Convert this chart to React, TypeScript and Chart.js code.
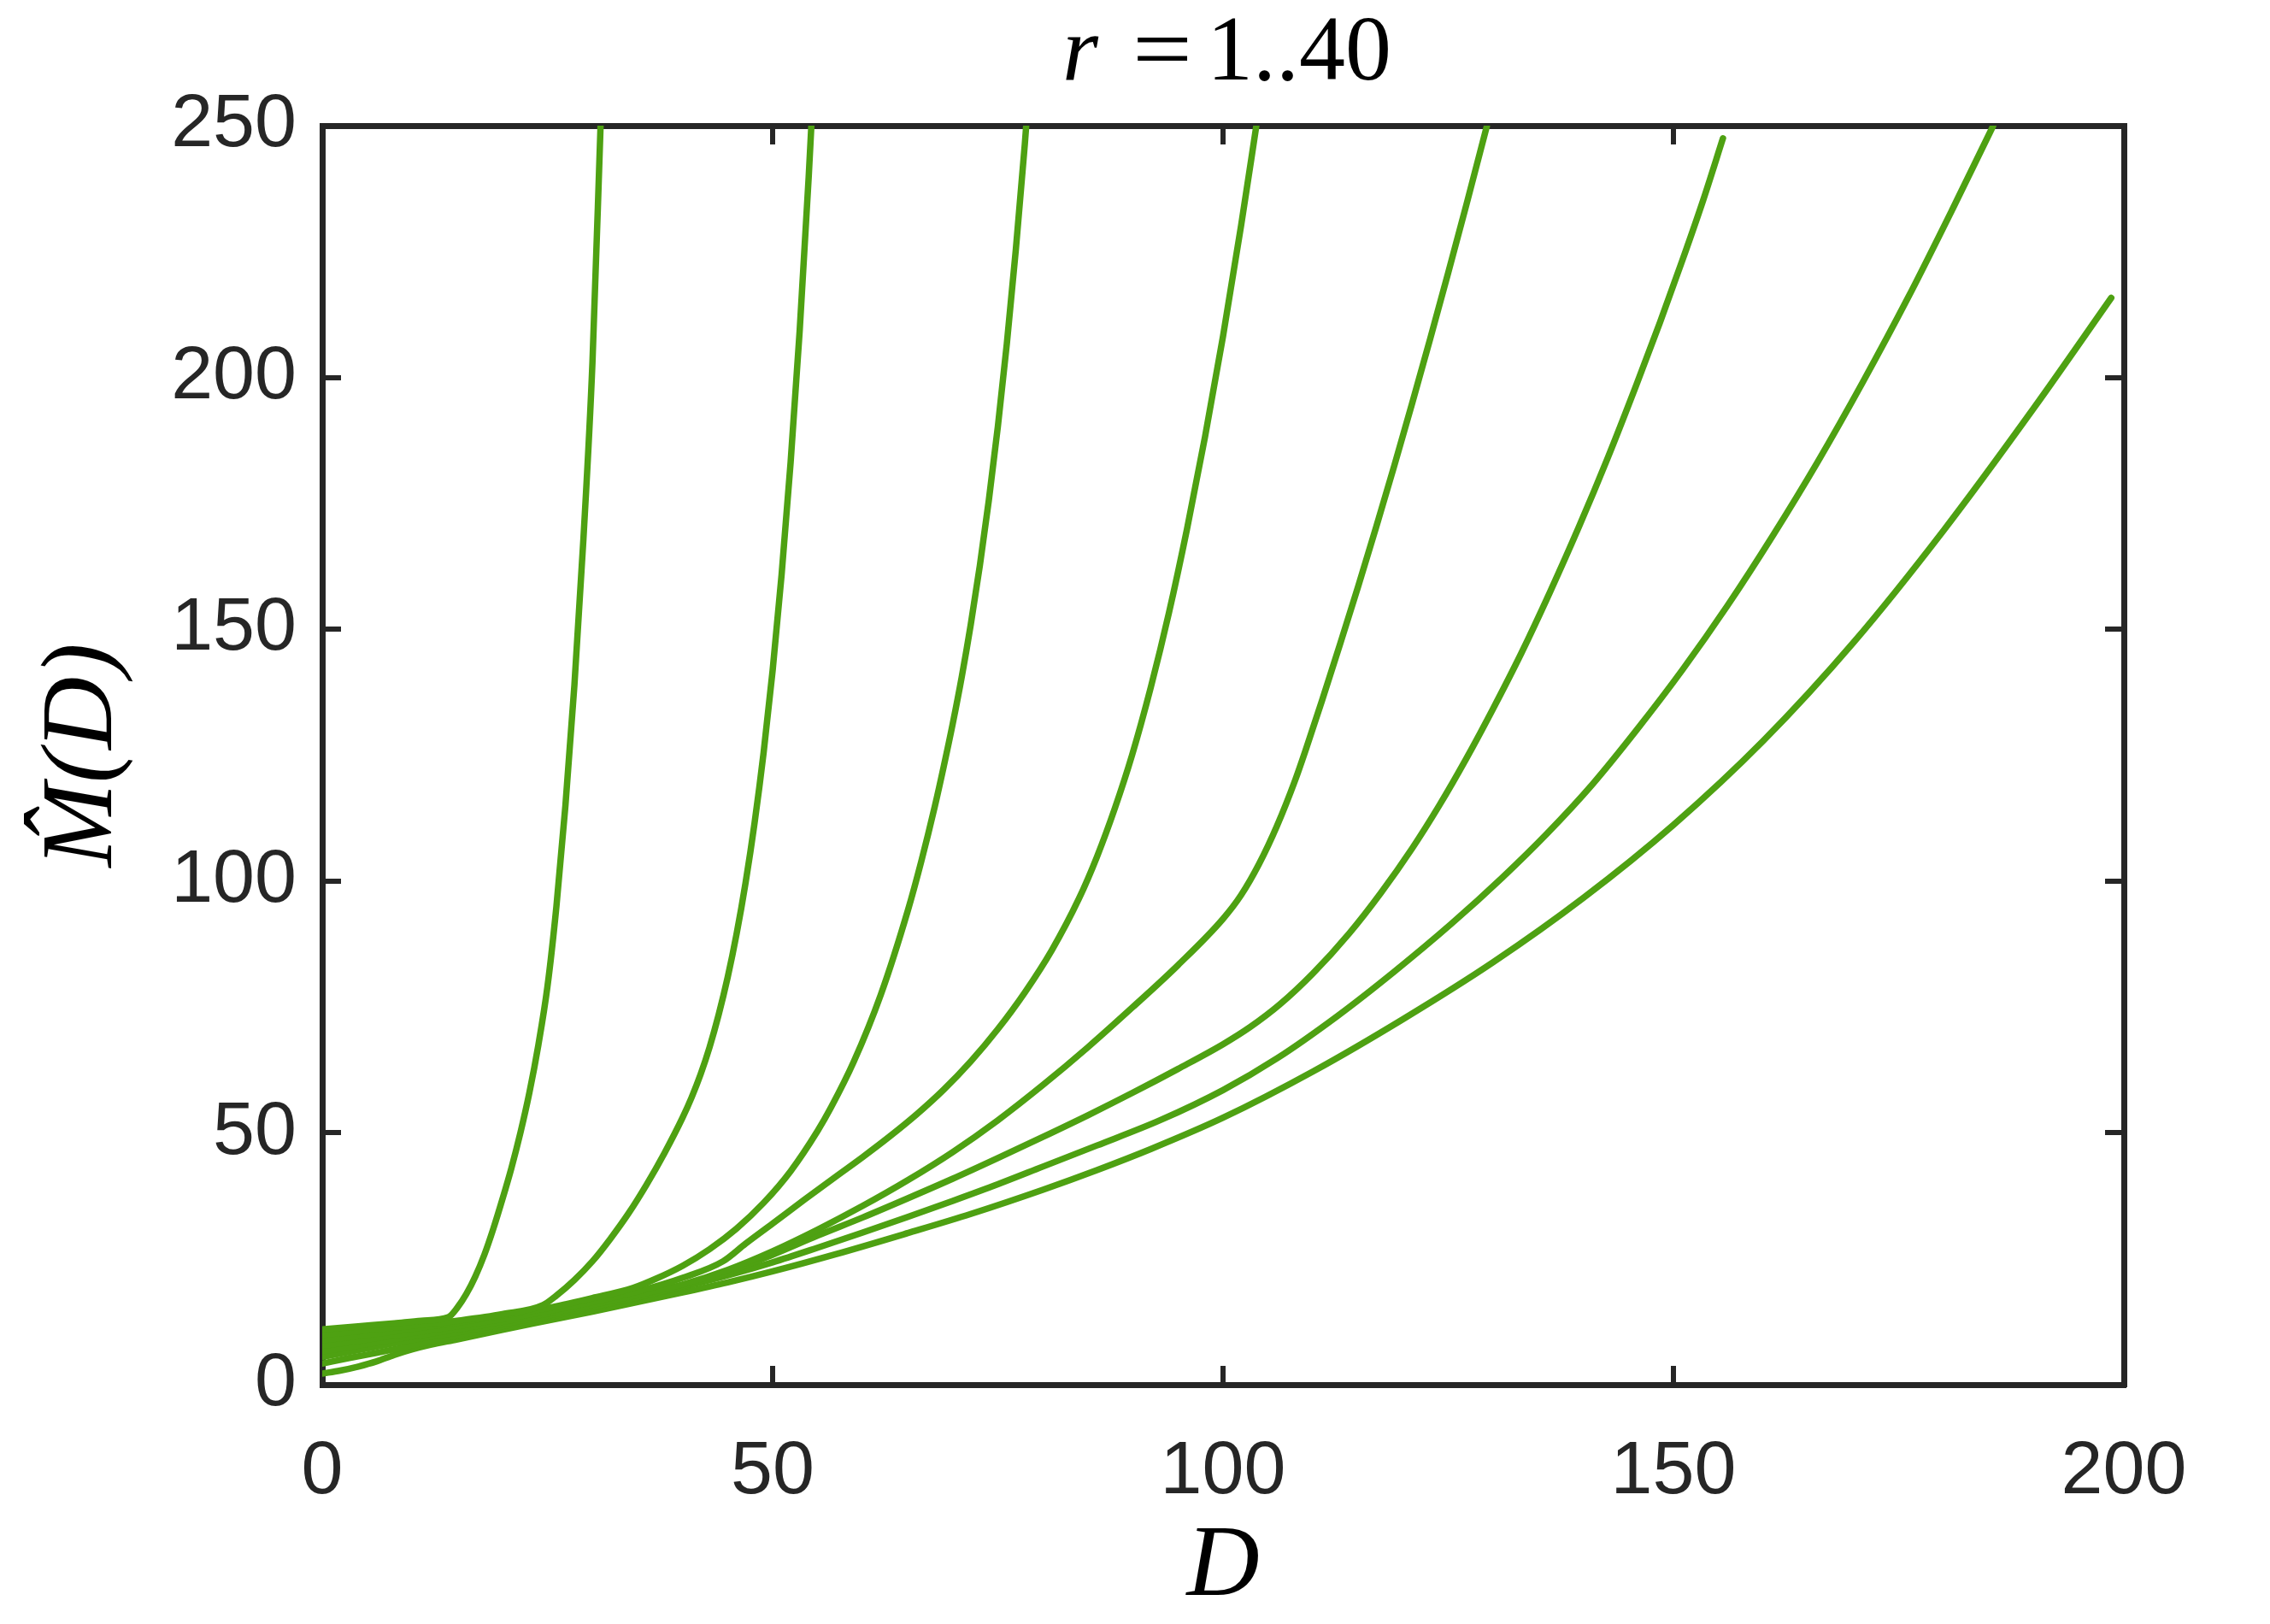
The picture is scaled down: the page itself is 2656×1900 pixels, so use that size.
import React, { useEffect, useRef } from "react";
import { Chart, registerables } from "chart.js";

Chart.register(...registerables);

// ---- data ----
const xTickValues = [0, 50, 100, 150, 200];
const yTickValues = [0, 50, 100, 150, 200, 250];
const titleParts = ["r", "=", "1..40"];
const xAxisTitle = "D";
const yAxisTitle = "M\u0302(D)";

const curveA_D = [0, 4, 8, 11, 14, 15, 16, 17, 18, 19, 20, 21, 22, 23, 24, 25, 26, 27, 28, 29, 30, 30.9];
const curveA_M = [11, 11.6, 12.2, 12.7, 13.4, 15.3, 18, 21.5, 25.8, 31, 36.8, 43, 50, 58, 67.5, 79, 95, 115, 139, 168, 203, 250];

const curveB_D = [0, 5, 10, 15, 20, 24.5, 26, 28, 30, 32, 34, 36, 38, 40, 41, 42, 43, 44, 45, 46, 47, 48, 49, 50, 51, 52, 53, 54, 54.3];
const curveB_M = [9.9, 10.8, 11.7, 12.7, 14, 15.8, 17.7, 20.8, 24.5, 29, 34, 39.7, 46, 53, 57, 61.6, 67, 73.4, 80.8, 89.5, 99.7, 111.6, 125.5, 141.8, 160.9, 183.2, 209.2, 239.7, 250];

const curveC_D = [0, 5, 10, 15, 20, 25, 30, 34.5, 37, 40, 43, 46, 49, 52, 55, 56.5, 59, 62, 65, 66.5, 68, 69, 70, 71, 72, 73, 74, 75, 76, 77, 78, 78.15];
const curveC_M = [8.8, 9.9, 11.1, 12.3, 13.8, 15.2, 17.2, 19.2, 21, 23.6, 26.9, 31, 36.1, 42.4, 50.4, 55.1, 64.1, 77.4, 94.1, 103.9, 114.8, 122.8, 131.3, 140.6, 151, 162.6, 175.6, 190.2, 206.7, 225.4, 246.4, 250];

const curveD_D = [0, 5, 10, 15, 20, 25, 30, 35, 40, 44.5, 47, 50, 53.5, 57, 60, 63, 66, 69, 72, 75, 78, 81, 84, 86, 88, 89.9, 92, 94, 96, 98, 100, 102, 103.7];
const curveD_M = [7.7, 9.0, 10.3, 11.6, 13.0, 14.6, 16.4, 18.5, 21.2, 24.5, 28, 32, 36.7, 41.3, 45.2, 49.3, 53.7, 58.6, 64.2, 70.6, 77.9, 86.3, 96.5, 104.8, 114.5, 125, 138.6, 153.3, 169.9, 188.2, 208.2, 230.1, 250];

const curveE_D = [0, 5, 10, 15, 20, 25, 30, 35, 40, 45, 50, 55, 60, 65, 70, 75, 80, 85, 90, 95, 100, 102, 104, 106, 108, 109.3, 111, 113, 115, 117, 119, 121, 123, 125, 127, 129.3];
const curveE_M = [6.6, 8.1, 9.6, 11, 12.5, 14.1, 15.9, 17.8, 19.9, 22.8, 26.5, 30.8, 35.5, 40.6, 46.2, 52.5, 59.5, 67, 75, 83.3, 92.5, 97.2, 103.4, 111, 120, 126.7, 135.9, 147.1, 158.5, 170.3, 182.4, 194.9, 207.7, 220.8, 234.2, 250];

const curveF_D = [0, 5, 10, 15, 20, 25, 30, 35, 40, 45, 50, 55, 60, 65, 70, 75, 80, 85, 90, 95, 100, 103, 106.3, 110, 114, 117.5, 121, 124, 127, 130, 133.1, 136.3, 139.5, 142.7, 145.9, 148.5, 151, 153.3, 155.5];
const curveF_M = [5.5, 7.2, 8.9, 10.4, 12.0, 13.7, 15.5, 17.4, 19.6, 22.3, 25.8, 29.6, 33.2, 37, 40.9, 45, 49.2, 53.5, 58, 62.7, 67.6, 71, 75.5, 81.7, 89.6, 97.6, 106.5, 115, 124.3, 134.3, 145.2, 157.4, 170.3, 184, 198.6, 210.9, 223.3, 235.2, 247.5];

const curveG_D = [0, 3, 6, 9, 12, 16, 20, 25, 30, 35, 40, 45, 50, 55, 60, 65, 70, 75, 80, 86, 93, 100, 106, 112.7, 119, 125.4, 131, 136, 141, 146, 151, 156, 161, 166, 171, 176, 181, 185.5];
const curveG_M = [4.2, 5.3, 6.3, 7.4, 8.6, 10.1, 11.6, 13.4, 15.3, 17.3, 19.4, 21.7, 24.3, 27.2, 30.2, 33.3, 36.5, 39.8, 43.3, 47.5, 52.5, 58.5, 64.8, 73.2, 82, 91.6, 100.7, 109.5, 119.2, 130.2, 141.95, 154.7, 168.5, 183.2, 199, 215.7, 233.5, 250];

const curveH_D = [0, 2, 4, 6, 8, 10, 12, 15, 20, 25, 30, 35, 40, 45, 50, 57, 65, 72, 80, 86, 92, 100, 110, 120, 130, 140, 150, 160, 170, 180, 190, 198.6];
const curveH_M = [2.2, 2.8, 3.6, 4.6, 5.9, 7.0, 7.9, 9.0, 10.9, 12.7, 14.5, 16.4, 18.3, 20.3, 22.5, 25.9, 30.1, 33.9, 38.7, 42.6, 46.8, 53, 62.2, 72.6, 83.9, 96.65, 111.15, 127.9, 147.4, 169.65, 193.9, 215.8];

const curveXs = [curveA_D, curveB_D, curveC_D, curveD_D, curveE_D, curveF_D, curveG_D, curveH_D];
const curveYs = [curveA_M, curveB_M, curveC_M, curveD_M, curveE_M, curveF_M, curveG_M, curveH_M];

// ---- styles ----
const GREEN = "rgb(78,161,18)";
const AXIS = "#262626";
const W = 2656;
const H = 1900;

const mixedTitle = {
  id: "mixedTitle",
  afterDraw(chart: any) {
    const ctx = chart.ctx as CanvasRenderingContext2D;
    const { left, right } = chart.chartArea;
    const cx = (left + right) / 2;
    const base = 93;
    ctx.save();
    ctx.fillStyle = "#000";
    ctx.textAlign = "left";
    ctx.textBaseline = "alphabetic";
    ctx.font = "italic 108px 'Liberation Serif'";
    ctx.fillText(titleParts[0], cx - 188, base);
    ctx.font = "108px 'Liberation Serif'";
    ctx.save();
    ctx.translate(cx - 106, base);
    ctx.scale(1.15, 1);
    ctx.fillText(titleParts[1], 0, 0);
    ctx.restore();
    ctx.fillText(titleParts[2], cx - 19, base);
    ctx.restore();
  },
};

export default function App() {
  const canvasRef = useRef<HTMLCanvasElement | null>(null);

  useEffect(() => {
    if (!canvasRef.current) return;
    const datasets = curveXs.map((xs, i) => ({
      label: "r" + (i + 1),
      data: xs.map((x, j) => ({ x, y: curveYs[i][j] })),
      borderColor: GREEN,
      backgroundColor: GREEN,
      borderWidth: 7.5,
      pointRadius: 0,
      pointHoverRadius: 0,
      fill: false,
      cubicInterpolationMode: "monotone" as const,
      borderCapStyle: "round" as const,
      borderJoinStyle: "round" as const,
    }));

    const tickFont = { family: "'Liberation Sans', Arial, sans-serif", size: 88 };
    const gridCommon = {
      display: true,
      drawOnChartArea: false,
      drawTicks: true,
      tickLength: -22,
      color: AXIS,
      lineWidth: 6,
    };
    const borderCommon = { display: true, color: AXIS, width: 7 };
    const titleFont = { family: "'Liberation Serif', serif", style: "italic", size: 118, lineHeight: 1 };

    const chart = new Chart(canvasRef.current, {
      type: "line",
      data: { datasets },
      plugins: [mixedTitle],
      options: {
        animation: false,
        responsive: false,
        devicePixelRatio: 1,
        layout: { padding: 0 },
        plugins: {
          legend: { display: false },
          tooltip: { enabled: false },
          title: { display: false },
        },
        scales: {
          x: {
            type: "linear",
            position: "bottom",
            min: 0,
            max: 200,
            afterBuildTicks: (s: any) => {
              s.ticks = xTickValues.map((v) => ({ value: v }));
            },
            ticks: { color: AXIS, font: tickFont, padding: 72, maxRotation: 0, autoSkip: false },
            grid: gridCommon,
            border: borderCommon,
            title: {
              display: true,
              text: xAxisTitle,
              color: "#000",
              font: titleFont,
              padding: { top: 0, bottom: 6 },
            },
            afterFit: (s: any) => {
              s.height = H - 1620;
            },
          },
          x2: {
            type: "linear",
            position: "top",
            min: 0,
            max: 200,
            afterBuildTicks: (s: any) => {
              s.ticks = xTickValues.map((v) => ({ value: v }));
            },
            ticks: { display: false },
            grid: gridCommon,
            border: borderCommon,
            afterFit: (s: any) => {
              s.height = 147;
            },
          },
          y: {
            type: "linear",
            position: "left",
            min: 0,
            max: 250,
            afterBuildTicks: (s: any) => {
              s.ticks = yTickValues.map((v) => ({ value: v }));
            },
            ticks: { color: AXIS, font: tickFont, padding: 52, autoSkip: false },
            grid: gridCommon,
            border: borderCommon,
            title: {
              display: true,
              text: yAxisTitle,
              color: "#000",
              font: titleFont,
              padding: { top: 40, bottom: 0 },
            },
            afterFit: (s: any) => {
              s.width = 377;
            },
          },
          y2: {
            type: "linear",
            position: "right",
            min: 0,
            max: 250,
            afterBuildTicks: (s: any) => {
              s.ticks = yTickValues.map((v) => ({ value: v }));
            },
            ticks: { display: false },
            grid: gridCommon,
            border: borderCommon,
            afterFit: (s: any) => {
              s.width = W - 2485;
            },
          },
        },
      } as any,
    });
    return () => chart.destroy();
  }, []);

  return (
    <div style={{ position: "absolute", left: 0, top: 0, width: W, height: H, background: "#fff" }}>
      <canvas ref={canvasRef} width={W} height={H} style={{ width: W, height: H, display: "block" }} />
    </div>
  );
}
